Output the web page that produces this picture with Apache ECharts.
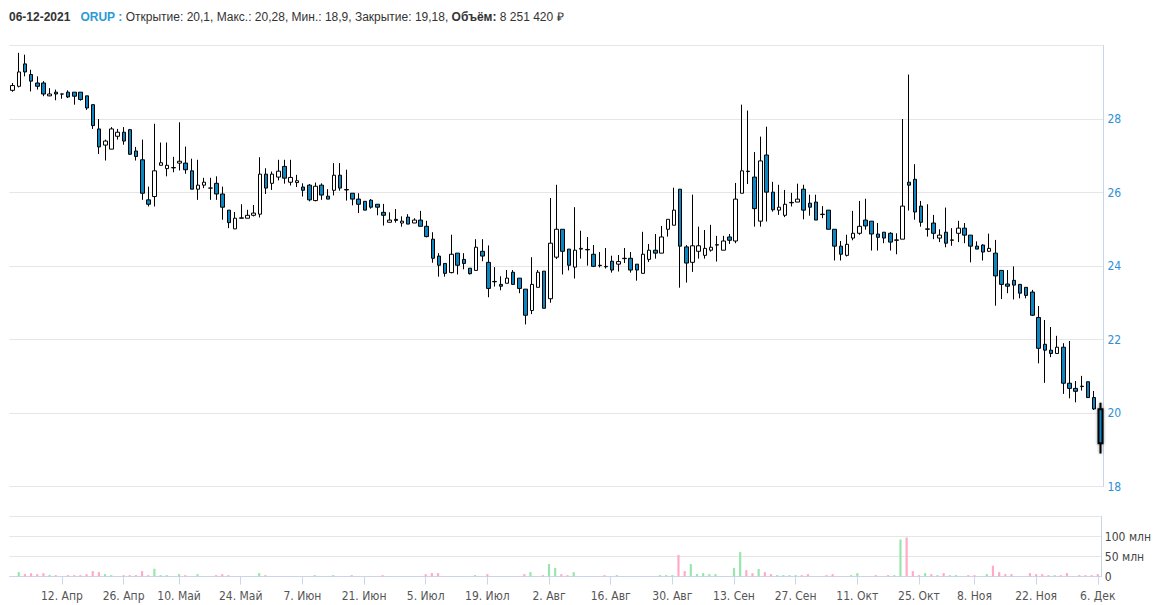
<!DOCTYPE html>
<html>
<head>
<meta charset="utf-8">
<script src="https://cdn.jsdelivr.net/npm/echarts@6/dist/echarts.min.js"></script>
<style>
html,body{margin:0;padding:0;background:#fff;}
#chart{width:1154px;height:605px;}
</style>
</head>
<body>
<div id="chart"></div>
<script>
// Trading days (Moscow exchange, 2021), by month
const monthDays = {
  "2021-03": [31],
  "2021-04": [1,2,5,6,7,8,9,12,13,14,15,16,19,20,21,22,23,26,27,28,29,30],
  "2021-05": [4,5,6,7,10,11,12,13,14,17,18,19,20,21,24,25,26,27,28,31],
  "2021-06": [1,2,3,4,7,8,9,10,11,14,15,16,17,18,21,22,23,24,25,28,29,30],
  "2021-07": [1,2,5,6,7,8,9,12,13,14,15,16,19,20,21,22,23,26,27,28,29,30],
  "2021-08": [2,3,4,5,6,9,10,11,12,13,16,17,18,19,20,23,24,25,26,27,30,31],
  "2021-09": [1,2,3,6,7,8,9,10,13,14,15,16,17,20,21,22,23,24,27,28,29,30],
  "2021-10": [1,4,5,6,7,8,11,12,13,14,15,18,19,20,21,22,25,26,27,28,29],
  "2021-11": [1,2,3,5,8,9,10,11,12,15,16,17,18,19,22,23,24,25,26,29,30],
  "2021-12": [1,2,3,6]
};
const dates = [];
Object.keys(monthDays).forEach(m => monthDays[m].forEach(d => dates.push(m + "-" + String(d).padStart(2, "0"))));

const tickDates = ["2021-04-12","2021-04-26","2021-05-10","2021-05-24","2021-06-07","2021-06-21","2021-07-05","2021-07-19","2021-08-02","2021-08-16","2021-08-30","2021-09-13","2021-09-27","2021-10-11","2021-10-25","2021-11-08","2021-11-22","2021-12-06"];
const tickLabels = ["12. Апр","26. Апр","10. Май","24. Май","7. Июн","21. Июн","5. Июл","19. Июл","2. Авг","16. Авг","30. Авг","13. Сен","27. Сен","11. Окт","25. Окт","8. Ноя","22. Ноя","6. Дек"];

const opens = [
28.78,28.89,29.50,29.21,28.98,28.98,28.63,28.73,28.68,28.73,28.73,28.73,28.63,28.39,27.73,27.29,27.18,27.53,27.64,27.71,
27.13,26.89,25.80,25.89,26.74,26.65,26.67,26.80,26.80,26.59,26.09,26.20,26.12,26.25,25.96,25.52,25.01,25.30,25.30,25.38,
25.41,26.50,26.25,26.42,26.71,26.28,26.27,26.15,26.20,25.78,26.20,25.90,26.06,26.47,26.08,25.98,25.82,25.76,25.79,25.68,
25.46,25.19,25.27,25.17,25.33,25.17,25.25,25.08,24.73,24.27,24.07,23.82,24.35,24.18,23.94,23.88,24.40,24.10,23.58,23.50,
23.53,23.83,23.67,23.37,22.79,23.42,23.86,23.11,24.24,25.00,24.46,23.97,24.46,24.44,24.32,24.02,23.99,24.13,24.05,24.20,
24.21,24.05,23.80,24.18,24.43,24.35,25.00,25.11,26.09,24.52,24.10,24.40,24.29,24.43,24.57,24.43,24.79,24.68,25.98,26.58,
26.42,25.22,27.02,26.01,25.52,25.38,25.72,25.74,26.09,25.71,25.74,25.40,25.52,25.00,24.54,24.29,24.76,24.89,25.25,25.22,
24.87,24.92,24.89,24.70,24.73,26.28,26.36,25.63,25.00,25.17,24.76,24.92,24.70,24.89,25.03,24.84,24.54,24.57,24.40,24.35,
23.88,23.51,23.61,23.50,23.42,23.29,22.60,21.87,21.71,21.62,21.79,20.81,20.67,20.73,20.85,20.42,20.10];
const closes = [
28.91,29.28,29.28,29.03,28.89,28.68,28.68,28.68,28.68,28.60,28.62,28.53,28.30,27.82,27.24,27.40,27.73,27.64,27.40,27.04,
26.98,25.98,25.68,26.59,26.81,26.74,26.68,26.85,26.62,26.09,26.20,26.28,26.12,25.96,25.60,25.18,25.30,25.31,25.38,25.44,
26.50,26.12,26.50,26.58,26.39,26.41,26.32,26.06,25.80,26.17,25.93,25.82,26.47,26.12,26.07,25.82,25.68,25.52,25.60,25.60,
25.38,25.25,25.24,25.22,25.14,25.25,25.08,24.80,24.21,24.02,23.80,24.32,24.02,24.07,23.79,24.51,24.27,23.39,23.57,23.45,
23.67,23.50,23.39,22.66,23.50,23.83,22.85,24.62,25.00,24.40,24.02,24.43,24.48,24.45,23.99,24.01,23.98,23.89,24.12,24.21,
23.89,23.89,24.32,24.43,24.35,24.79,25.27,25.52,24.54,24.08,24.55,24.55,24.48,24.51,24.58,24.68,24.70,25.82,26.59,26.57,
25.56,26.86,26.01,25.53,25.60,25.68,25.73,25.82,25.52,25.60,25.25,25.41,25.00,24.54,24.32,24.59,24.89,25.08,25.09,24.87,
24.78,24.76,24.65,24.71,25.63,26.20,25.47,25.19,25.01,24.89,24.84,24.62,24.71,25.03,24.84,24.54,24.46,24.38,24.48,23.73,
23.50,23.45,23.48,23.26,23.20,22.66,21.76,21.71,21.62,21.79,20.81,20.67,20.59,20.72,20.42,20.11,19.18];
const lows = [
28.74,28.86,29.16,28.75,28.80,28.62,28.62,28.51,28.55,28.57,28.39,28.50,28.25,27.73,27.05,26.87,27.18,27.44,27.30,27.03,
26.87,25.80,25.62,25.62,26.74,26.44,26.55,26.60,26.51,26.09,25.80,26.12,25.80,25.80,25.26,25.03,25.01,25.30,25.30,25.35,
25.32,25.96,26.07,26.33,26.24,26.19,26.15,25.89,25.76,25.76,25.80,25.82,25.92,26.05,25.78,25.65,25.44,25.52,25.56,25.38,
25.10,25.19,25.18,25.07,25.14,25.17,25.08,24.78,24.09,23.71,23.71,23.80,23.77,23.91,23.77,23.88,24.13,23.15,23.44,23.34,
23.53,23.50,23.26,22.41,22.69,23.42,22.85,23.00,24.19,23.77,23.88,23.66,24.20,24.01,23.97,23.96,23.93,23.82,23.85,24.08,
23.82,23.60,23.80,24.11,24.20,24.35,24.80,25.11,23.41,23.55,23.84,24.20,24.20,24.39,24.12,24.43,24.60,24.62,25.98,26.23,
25.07,25.07,25.21,25.48,25.39,25.33,25.62,25.74,25.27,25.37,25.25,25.30,25.00,24.15,24.15,24.26,24.70,24.85,24.99,24.42,
24.42,24.62,24.42,24.32,24.73,25.51,25.26,25.07,24.80,24.73,24.65,24.51,24.55,24.65,24.62,24.10,24.46,24.15,24.38,22.92,
23.10,23.26,23.09,23.12,23.12,22.64,21.35,20.82,21.52,21.62,20.52,20.40,20.29,20.61,20.42,20.08,18.90];
const highs = [
28.98,29.80,29.75,29.34,29.16,29.03,28.84,28.80,28.68,28.78,28.73,28.73,28.63,28.39,28.00,27.44,27.78,27.73,27.78,27.73,
27.24,27.44,26.16,27.87,27.36,27.36,26.97,27.91,27.25,26.92,26.89,26.40,26.40,26.44,26.16,25.52,25.47,25.68,25.53,25.66,
26.96,26.66,26.57,26.89,26.89,26.89,26.48,26.25,26.23,26.27,26.25,26.09,26.80,26.80,26.62,25.98,25.98,25.76,25.82,25.68,
25.69,25.46,25.55,25.35,25.41,25.30,25.50,25.23,24.92,24.35,24.07,24.85,24.35,24.35,23.94,24.73,24.73,24.56,23.97,23.72,
23.89,23.89,23.67,23.37,24.24,23.89,23.86,25.85,26.21,25.00,24.46,25.60,24.96,24.79,24.57,24.38,24.49,24.28,24.30,24.49,
24.38,24.05,24.93,24.60,24.87,25.09,25.27,26.13,26.09,24.57,25.94,25.07,24.98,25.12,24.82,24.82,24.87,26.26,28.39,28.23,
27.10,27.52,27.79,26.29,26.21,26.07,25.99,26.24,26.21,25.94,25.94,25.63,25.52,25.00,24.68,24.85,25.50,25.77,25.83,25.22,
25.17,24.92,24.92,24.89,28.00,29.21,26.77,25.77,25.68,25.39,25.00,25.59,25.03,25.23,25.17,24.84,24.67,24.59,24.88,24.71,
23.88,23.89,23.99,23.50,23.42,23.35,22.91,22.53,22.34,22.10,21.90,21.96,20.87,21.01,20.85,20.60,20.28];
// volume, millions
const volumes = [
0.3,10.9,5.9,8.4,5.9,8.4,4.2,3.4,0.3,3.4,3.4,3.4,5.9,13.5,10.9,5.9,3.4,0.3,3.4,3.4,
3.4,13.5,3.4,19.4,3.4,3.4,0.3,5.9,3.4,0.3,5.9,0.3,0.3,3.4,5.9,3.4,0.3,0.3,0.3,0.3,
8.4,3.4,0.3,0.3,0.3,0.3,0.3,0.3,0.3,3.4,0.3,0.3,3.4,0.3,0.3,3.4,0.3,0.3,0.3,0.3,
3.4,0.3,0.3,0.3,0.3,0.3,0.3,5.9,8.4,8.4,0.3,0.3,0.3,0.3,0.3,3.4,0.3,5.9,0.3,0.3,
0.3,0.3,0.3,5.9,10.9,0.3,3.4,31,21,5.9,3.4,10.9,0.3,0.3,0.3,0.3,3.4,0.3,3.4,0.3,
0.3,0.3,0.3,0.3,0.3,3.4,3.4,3.4,54,13.5,31,5.9,8.4,5.9,5.9,0.3,0.3,21,61,16,
8.4,18.5,10.9,5.9,3.4,3.4,3.4,3.4,3.4,5.9,0.3,0.3,3.4,5.9,0.3,0.3,3.4,8.4,0.3,0.3,
3.4,0.3,3.4,3.4,92.6,97.6,13.5,3.4,8.4,5.9,3.4,8.4,3.4,3.4,0.3,3.4,3.4,0.3,5.9,27,
10.9,5.9,5.9,0.3,0.3,8.4,5.9,5.9,3.4,3.4,3.4,8.4,0.3,3.4,3.4,3.4,5.9];

const priceTicks = [18, 20, 22, 24, 26, 28, 30];
const volumeTicks = [0, 50, 100, 150];

const UP_FILL = '#ffffff', DOWN_FILL = '#0b86c0';
const VOL_UP = '#98e6ae', VOL_DOWN = '#ffabc7';
const FONT = "Tahoma, 'DejaVu Sans Condensed', 'DejaVu Sans', sans-serif";

const last = dates.length - 1;
const candleData = dates.map((d, i) => {
  const item = { value: [opens[i], closes[i], lows[i], highs[i]] };
  if (i === last) item.itemStyle = { borderWidth: 2, shadowBlur: 3, shadowColor: 'rgba(0,0,0,0.45)' };
  return item;
});
const volData = dates.map((d, i) => ({
  value: volumes[i],
  itemStyle: { color: closes[i] >= opens[i] ? VOL_UP : VOL_DOWN }
}));

const tickSet = new Set(tickDates);
const showTick = (idx, val) => tickSet.has(val);

const chart = echarts.init(document.getElementById('chart'), null, { renderer: 'svg' });
chart.setOption({
  animation: false,
  backgroundColor: '#ffffff',
  title: {
    left: 4, top: 6,
    text: '{d|06-12-2021}   {t|ORUP :} {n|Открытие: 20,1, Макс.: 20,28, Мин.: 18,9, Закрытие: 19,18,} {b|Объём:} {n|8 251 420 ₽}',
    textStyle: {
      fontFamily: "'Liberation Sans', Arial, sans-serif", fontSize: 12, fontWeight: 'normal', color: '#333',
      rich: {
        d: { fontFamily: "'Liberation Sans', Arial", fontSize: 12, fontWeight: 'bold', color: '#333' },
        t: { fontFamily: "'Liberation Sans', Arial", fontSize: 12, fontWeight: 'bold', color: '#2a9ad6' },
        n: { fontFamily: "'Liberation Sans', Arial", fontSize: 12, color: '#333' },
        b: { fontFamily: "'Liberation Sans', Arial", fontSize: 12, fontWeight: 'bold', color: '#333' }
      }
    }
  },
  grid: [
    { left: 9.5, right: 50.5, top: 45.5, height: 441 },
    { left: 9.5, right: 50.5, top: 516.5, height: 60 }
  ],
  xAxis: [
    {
      type: 'category', gridIndex: 0, data: dates, boundaryGap: true,
      axisLine: { show: false }, axisTick: { show: false }, axisLabel: { show: false }, splitLine: { show: false }
    },
    {
      type: 'category', gridIndex: 1, data: dates, boundaryGap: true, offset: 5.5,
      axisLine: { show: true, lineStyle: { color: '#ccd6eb', width: 1 } },
      axisTick: { show: true, interval: showTick, alignWithLabel: true, length: 8, lineStyle: { color: '#ccd6eb' } },
      axisLabel: {
        interval: showTick, margin: 8, color: '#555', fontFamily: FONT, fontSize: 12,
        formatter: v => { const k = tickDates.indexOf(v); return k >= 0 ? tickLabels[k] : ''; }
      },
      splitLine: { show: false }
    }
  ],
  yAxis: [
    {
      type: 'value', gridIndex: 0, position: 'right', min: priceTicks[0], max: priceTicks[priceTicks.length - 1], interval: 2,
      axisLine: { show: true, lineStyle: { color: '#c6d5e8' } },
      axisTick: { show: false },
      axisLabel: { margin: 4, color: '#2f8fd6', fontFamily: FONT, fontSize: 12,
        formatter: v => (v === 30 ? '' : String(v)) },
      splitLine: { show: true, lineStyle: { color: '#e6e6e6', width: 1 } }
    },
    {
      type: 'value', gridIndex: 1, position: 'right', min: volumeTicks[0], max: volumeTicks[volumeTicks.length - 1], interval: 50,
      axisLine: { show: true, lineStyle: { color: '#c6d5e8' } },
      axisTick: { show: false },
      axisLabel: { margin: 4, color: '#444', fontFamily: FONT, fontSize: 12,
        formatter: v => (v === 150 ? '' : (v === 0 ? '0' : v + ' млн')) },
      splitLine: { show: true, lineStyle: { color: '#e6e6e6', width: 1 } }
    }
  ],
  series: [
    {
      type: 'candlestick', xAxisIndex: 0, yAxisIndex: 0, data: candleData, barWidth: 4,
      itemStyle: { color: UP_FILL, color0: DOWN_FILL, borderColor: '#000', borderColor0: '#000', borderWidth: 1 }
    },
    {
      type: 'bar', xAxisIndex: 1, yAxisIndex: 1, data: volData, barWidth: 2.2
    }
  ]
});
</script>
</body>
</html>
